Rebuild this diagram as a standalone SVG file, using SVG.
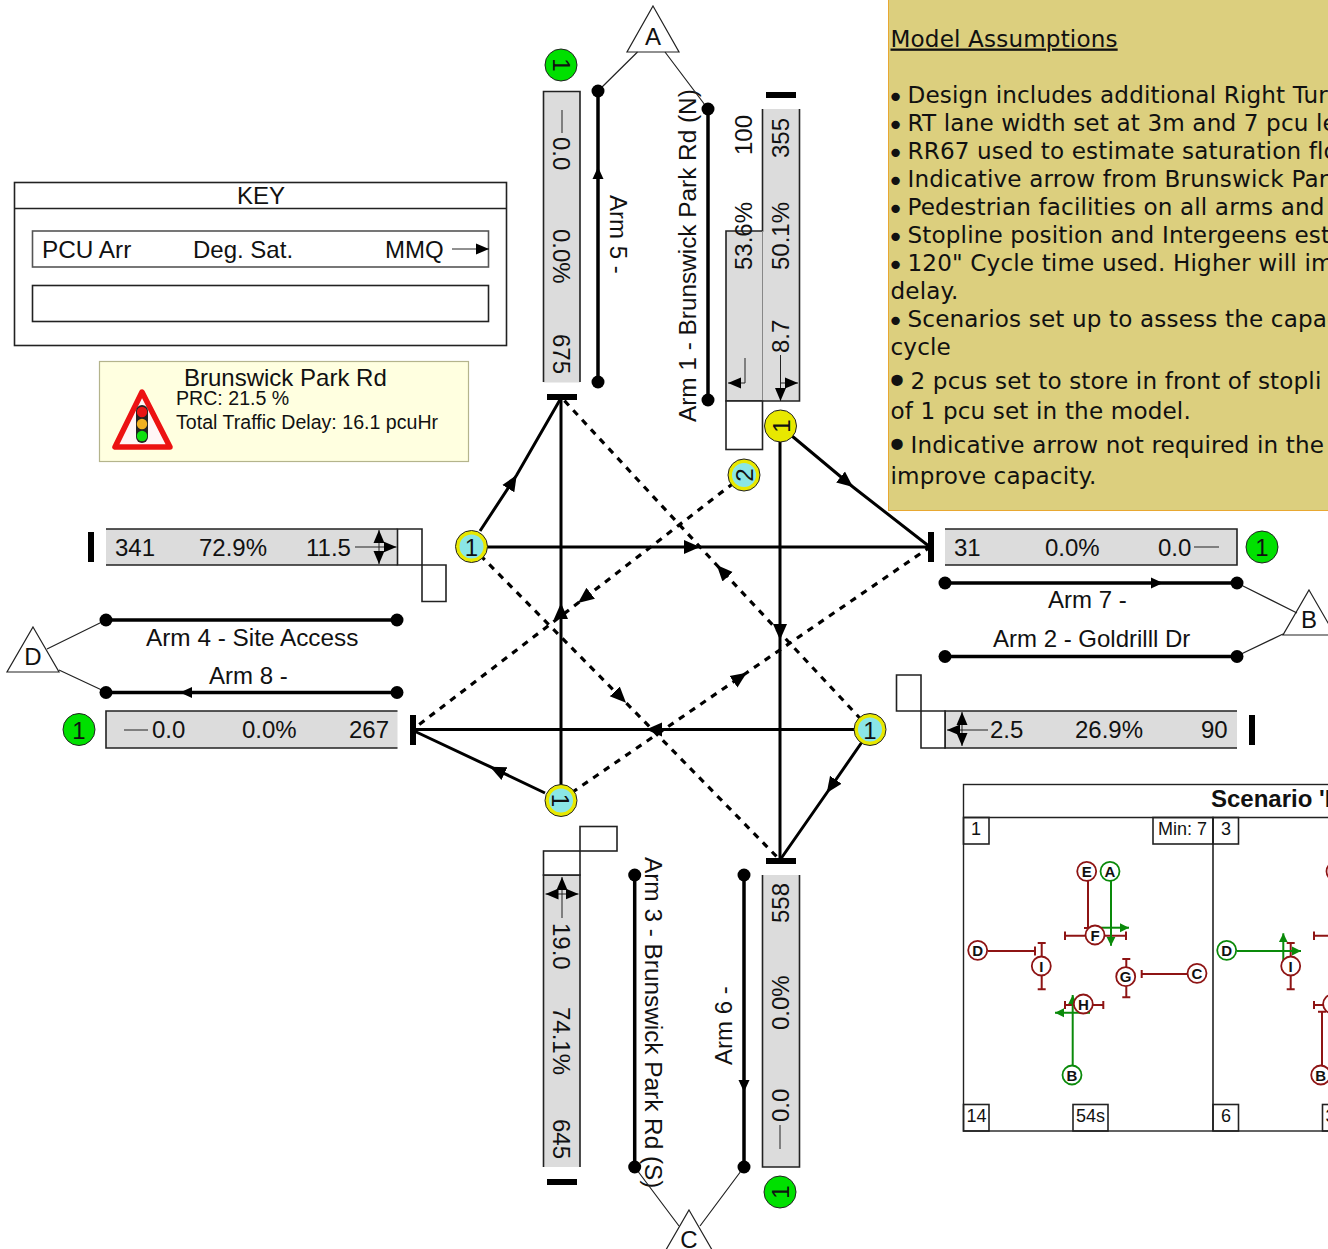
<svg xmlns="http://www.w3.org/2000/svg" width="1328" height="1249" viewBox="0 0 1328 1249">
<style>
text{font-family:"Liberation Sans",Arial,sans-serif;font-size:24px;fill:#111}
.l{font-size:24.35px}
.s{font-size:19.6px}.p{font-size:18px}
.m{font-family:"DejaVu Sans",Verdana,sans-serif;font-size:23.1px;letter-spacing:.15px}
.bu{font-size:29px}.bb{font-size:39px}
.b{font-family:"Liberation Sans",Arial,sans-serif;font-weight:bold;font-size:15px;text-anchor:middle}
.c{text-anchor:middle}
.bar{fill:#dcdcdc;stroke:none}
.o{fill:none;stroke:#222;stroke-width:1.6}
.w{fill:#fff;stroke:#222;stroke-width:1.6}
.thin{fill:none;stroke:#222;stroke-width:1}
.road{fill:none;stroke:#000;stroke-width:3.5}
.dot{fill:#000}
.stop{fill:#000}
.tri{fill:#fff;stroke:#222;stroke-width:1.2}
.lk{fill:none;stroke:#000;stroke-width:3;marker-mid:url(#ah)}
.dl{fill:none;stroke:#000;stroke-width:3.2;stroke-dasharray:6.5 6.5;marker-mid:url(#ah)}
.dr{fill:none;stroke:#222;stroke-width:1.2}
.ga{fill:#00e000;stroke:#222;stroke-width:1}
.ya{fill:#e8e800;stroke:#222;stroke-width:1}
.cy{fill:#8ae6e6}
.red{fill:none;stroke:#8e1414;stroke-width:2}
.grn{fill:none;stroke:#0a8a0a;stroke-width:2}
.cr{fill:#fff;stroke:#8e1414;stroke-width:1.8}
.cg{fill:#fff;stroke:#0a8a0a;stroke-width:1.8}
</style>
<defs>
<marker id="ah" markerUnits="userSpaceOnUse" markerWidth="18" markerHeight="16" refX="16" refY="8" orient="auto"><path d="M0 1L16 8L0 15Z" fill="#000"/></marker>
<marker id="sa" markerUnits="userSpaceOnUse" markerWidth="14" markerHeight="12" refX="13" refY="6" orient="auto-start-reverse"><path d="M0 .5L13 6L0 11.5Z" fill="#000"/></marker>
<marker id="ga" markerUnits="userSpaceOnUse" markerWidth="10" markerHeight="10" refX="9" refY="5" orient="auto"><path d="M0 .5L9 5L0 9.5Z" fill="#0a8a0a"/></marker>
<marker id="rm" markerUnits="userSpaceOnUse" markerWidth="14" markerHeight="12" refX="12" refY="6" orient="auto"><path d="M0 .5L12 6L0 11.5Z" fill="#000"/></marker>
</defs>

<g id="model-assumptions">
<rect x="888.5" y="-2" width="445" height="512.5" fill="#dccf7e" stroke="#e8a832" stroke-width="1"/>
<text class="m" x="890.5" y="46.5" text-decoration="underline">Model Assumptions</text>
<text class="m" y="103"><tspan class="bu" x="887" dy="4">•</tspan><tspan x="907.5" dy="-4">Design includes additional Right Tur</tspan></text>
<text class="m" y="131"><tspan class="bu" x="887" dy="4">•</tspan><tspan x="907.5" dy="-4">RT lane width set at 3m and 7 pcu le</tspan></text>
<text class="m" y="159"><tspan class="bu" x="887" dy="4">•</tspan><tspan x="907.5" dy="-4">RR67 used to estimate saturation flo</tspan></text>
<text class="m" y="187"><tspan class="bu" x="887" dy="4">•</tspan><tspan x="907.5" dy="-4">Indicative arrow from Brunswick Par</tspan></text>
<text class="m" y="215"><tspan class="bu" x="887" dy="4">•</tspan><tspan x="907.5" dy="-4">Pedestrian facilities on all arms and</tspan></text>
<text class="m" y="243"><tspan class="bu" x="887" dy="4">•</tspan><tspan x="907.5" dy="-4">Stopline position and Intergeens est</tspan></text>
<text class="m" y="271"><tspan class="bu" x="887" dy="4">•</tspan><tspan x="907.5" dy="-4">120" Cycle time used. Higher will im</tspan></text>
<text class="m" x="890.5" y="299">delay.</text>
<text class="m" y="327"><tspan class="bu" x="887" dy="4">•</tspan><tspan x="907.5" dy="-4">Scenarios set up to assess the capac</tspan></text>
<text class="m" x="890.5" y="355">cycle</text>
<text class="m" y="389"><tspan class="bb" x="885.5" dy="6">•</tspan><tspan x="910.5" dy="-6">2 pcus set to store in front of stopli</tspan></text>
<text class="m" x="890.5" y="419">of 1 pcu set in the model.</text>
<text class="m" y="453"><tspan class="bb" x="885.5" dy="6">•</tspan><tspan x="910.5" dy="-6">Indicative arrow not required in the</tspan></text>
<text class="m" x="890.5" y="484">improve capacity.</text>
</g>

<g id="key">
<rect class="o" x="14.5" y="182.5" width="492" height="163" stroke-width="1.2"/>
<path class="o" d="M14.5 208.5H507"/>
<text class="c" x="261" y="204">KEY</text>
<rect class="o" x="32.5" y="231" width="456" height="36" style="stroke:#555"/>
<rect class="o" x="32.5" y="285.5" width="456" height="36"/>
<text class="l" x="42" y="258">PCU Arr</text>
<text x="193" y="258">Deg. Sat.</text>
<text x="385" y="258">MMQ</text>
<path class="thin" d="M452 249H489" marker-end="url(#sa)"/>
</g>

<g id="summary">
<rect x="99.5" y="361.5" width="369" height="100" fill="#ffffe0" stroke="#b4b48c" stroke-width="1.2"/>
<path d="M142 392L115 447H170Z" fill="#fff6f6" stroke="#ec1212" stroke-width="5.5" stroke-linejoin="round"/>
<rect x="136" y="405" width="12" height="38" rx="6" fill="#222"/>
<circle cx="142" cy="412" r="5.2" fill="#e81414"/>
<circle cx="142" cy="424" r="5.2" fill="#f0b020"/>
<circle cx="142" cy="436" r="5.2" fill="#10e010"/>
<text x="184" y="386">Brunswick Park Rd</text>
<text class="s" x="176" y="405">PRC: 21.5 %</text>
<text class="s" x="176" y="429">Total Traffic Delay: 16.1 pcuHr</text>
</g>

<g id="arm5-top">
<rect class="bar" x="543.5" y="91.5" width="36.5" height="291"/>
<path class="o" d="M543.5 382V91.5H580V382"/>
<path class="thin" d="M562 110V133"/>
<g transform="translate(553 0) rotate(90)"><text x="137">0.0</text><text x="229">0.0%</text><text x="334">675</text></g>
<rect class="stop" x="547" y="394" width="30" height="6"/>
<circle class="ga" cx="561" cy="65" r="16"/>
<text class="c" transform="translate(552.5 65) rotate(90)">1</text>
</g>

<g id="arm1-top">
<path class="bar" d="M762.5 109H799.5V401H726V231H762.5Z"/>
<path class="o" d="M762.5 109V231H726V401H799.5V109"/>
<path class="thin" d="M762.5 231V401" style="stroke:#888"/>
<rect class="w" x="726" y="401" width="36.5" height="48.5"/>
<g transform="translate(752 0) rotate(-90)"><text x="-155">100</text><text x="-270">53.6%</text></g>
<g transform="translate(789 0) rotate(-90)"><text x="-158">355</text><text x="-270">50.1%</text><text x="-353">8.7</text></g>
<path class="thin" d="M745 358V383H728" marker-end="url(#sa)"/>
<path class="thin" d="M780.5 355V401" marker-end="url(#sa)"/>
<path class="thin" d="M780.5 383H798" marker-end="url(#sa)"/>
<rect class="stop" x="766" y="92" width="30" height="6"/>
</g>

<g id="arm7-right">
<rect class="bar" x="945" y="529" width="292" height="36"/>
<path class="o" d="M945 529H1237V565H945"/>
<text x="954" y="556">31</text><text x="1045" y="556">0.0%</text><text x="1158" y="556">0.0</text>
<path class="thin" d="M1194 547H1219"/>
<rect class="stop" x="928" y="532" width="6" height="30"/>
<circle class="ga" cx="1262" cy="547" r="16"/>
<text class="c" x="1262" y="556">1</text>
</g>

<g id="arm2-right">
<rect class="bar" x="945" y="711" width="292" height="37"/>
<path class="o" d="M1237 711H945V748H1237"/>
<path class="w" d="M921 711H945V748H921Z"/>
<path class="w" d="M896.5 675H921V711H896.5Z"/>
<text x="990" y="738">2.5</text><text x="1075" y="738">26.9%</text><text x="1201" y="738">90</text>
<path class="thin" d="M988 730H947" marker-end="url(#sa)"/>
<path class="thin" d="M962 712V746" marker-start="url(#sa)" marker-end="url(#sa)"/>
<rect class="stop" x="1249" y="715" width="6" height="30"/>
</g>

<g id="arm4-left">
<rect class="bar" x="106" y="529" width="291.5" height="36"/>
<path class="o" d="M106 529H397.5M106 565H397.5"/>
<path class="w" d="M397.5 529H422V565H397.5Z"/>
<path class="w" d="M422 565H446V601.5H422Z"/>
<text x="115" y="556">341</text><text x="199" y="556">72.9%</text><text x="306" y="556">11.5</text>
<path class="thin" d="M355 547H396.5" marker-end="url(#sa)"/>
<path class="thin" d="M379 530V564" marker-start="url(#sa)" marker-end="url(#sa)"/>
<rect class="stop" x="88" y="532" width="6" height="30"/>
</g>

<g id="arm8-left">
<rect class="bar" x="106" y="711" width="291.5" height="37"/>
<path class="o" d="M397.5 711H106V748H397.5"/>
<text x="152" y="738">0.0</text><text x="242" y="738">0.0%</text><text x="349" y="738">267</text>
<path class="thin" d="M124 730H148"/>
<rect class="stop" x="410" y="715" width="6" height="30"/>
<circle class="ga" cx="79" cy="729.5" r="16"/>
<text class="c" x="79" y="738.5">1</text>
</g>

<g id="arm3-bottom">
<rect class="bar" x="543.5" y="875" width="36.5" height="292"/>
<path class="o" d="M543.5 1167V875H580V1167"/>
<rect class="w" x="543.5" y="851" width="36.5" height="24"/>
<rect class="w" x="580" y="826.5" width="37" height="24.5"/>
<g transform="translate(553 0) rotate(90)"><text x="923">19.0</text><text x="1007">74.1%</text><text x="1119">645</text></g>
<path class="thin" d="M562 918V877" marker-end="url(#sa)"/>
<path class="thin" d="M545.5 894H578.5" marker-start="url(#sa)" marker-end="url(#sa)"/>
<rect class="stop" x="547" y="1179" width="30" height="6"/>
</g>

<g id="arm6-bottom">
<rect class="bar" x="762.5" y="875" width="37" height="292"/>
<path class="o" d="M762.5 875V1167H799.5V875"/>
<g transform="translate(789 0) rotate(-90)"><text x="-923">558</text><text x="-1030">0.0%</text><text x="-1122">0.0</text></g>
<path class="thin" d="M780 1125V1149"/>
<rect class="stop" x="766" y="858" width="30" height="6"/>
<circle class="ga" cx="780" cy="1192" r="16"/>
<text class="c" transform="translate(789 1192) rotate(-90)">1</text>
</g>

<g id="arm-labels">
<text transform="translate(610 195) rotate(90)">Arm 5 -</text>
<text class="l" transform="translate(696 422) rotate(-90)">Arm 1 - Brunswick Park Rd (N)</text>
<text x="1048" y="608">Arm 7 -</text>
<text x="993" y="647">Arm 2 - Goldrilll Dr</text>
<text class="l" x="146" y="646">Arm 4 - Site Access</text>
<text x="209" y="684">Arm 8 -</text>
<text class="l" transform="translate(645 857) rotate(90)">Arm 3 - Brunswick Park Rd (S)</text>
<text transform="translate(732 1065) rotate(-90)">Arm 6 -</text>
</g>

<g id="node-a">
<path class="tri" d="M653 6L679 52H627Z"/>
<text class="c" x="653" y="45">A</text>
</g>
<g id="node-b">
<path class="tri" d="M1309 590L1335 635H1283Z"/>
<text class="c" x="1309" y="628">B</text>
</g>
<g id="node-c">
<path class="tri" d="M689 1210L715 1255H663Z"/>
<text class="c" x="689" y="1248">C</text>
</g>
<g id="node-d">
<path class="tri" d="M33 627L59 672H7Z"/>
<text class="c" x="33" y="665">D</text>
</g>

<g id="connectors">
<path class="dr" d="M637.5 52L598 91M665 52L708 109M1237 583L1297 613M1237 656L1283 634M47 649L106 620M59 670L106 692M634.7 1167L679 1226M744 1167L700 1226"/>
<path class="road" d="M598 382V167V91" marker-mid="url(#rm)"/>
<path class="road" d="M708 109V400"/>
<path class="road" d="M945 583H1163H1237" marker-mid="url(#rm)"/>
<path class="road" d="M945 656.5H1237"/>
<path class="road" d="M106 620H397"/>
<path class="road" d="M397 692.5H180H106" marker-mid="url(#rm)"/>
<path class="road" d="M634.7 875V1167"/>
<path class="road" d="M744 875V1092V1167" marker-mid="url(#rm)"/>
<g class="dot">
<circle cx="598" cy="91" r="6.5"/><circle cx="598" cy="382" r="6.5"/>
<circle cx="708" cy="109" r="6.5"/><circle cx="708" cy="400" r="6.5"/>
<circle cx="945" cy="583" r="6.5"/><circle cx="1237" cy="583" r="6.5"/>
<circle cx="945" cy="656.5" r="6.5"/><circle cx="1237" cy="656.5" r="6.5"/>
<circle cx="106" cy="620" r="6.5"/><circle cx="397" cy="620" r="6.5"/>
<circle cx="106" cy="692.5" r="6.5"/><circle cx="397" cy="692.5" r="6.5"/>
<circle cx="634.7" cy="875" r="6.5"/><circle cx="634.7" cy="1167" r="6.5"/>
<circle cx="744" cy="875" r="6.5"/><circle cx="744" cy="1167" r="6.5"/>
</g>
<path class="lk" d="M471 547L700 547L930 547"/>
<path class="lk" d="M480 531L516.7 475L561 398"/>
<path class="lk" d="M561 800L561 603L561 398"/>
<path class="lk" d="M780 426L780 640L780 860"/>
<path class="lk" d="M792 436L853 487L930 547"/>
<path class="lk" d="M870 729.5L646 729.5L412 729.5"/>
<path class="lk" d="M862 742L826.7 793L780 860"/>
<path class="lk" d="M545 793L490 766.7L412 730"/>
<path class="dl" d="M870 729L716.7 565L561 397"/>
<path class="dl" d="M471 546L626 702.7L780 860"/>
<path class="dl" d="M744 475L578 603L412 730"/>
<path class="dl" d="M561 800L746.7 672.7L930 547"/>
</g>

<g id="signal-1-tl"><circle class="ya" cx="471.5" cy="546.5" r="16"/><circle class="cy" cx="471.5" cy="546.5" r="12"/><text class="c" x="471.5" y="555.5">1</text></g>
<g id="signal-1-r"><circle class="ya" cx="870" cy="729.5" r="16"/><circle class="cy" cx="870" cy="729.5" r="12"/><text class="c" x="870" y="738.5">1</text></g>
<g id="signal-1-b"><circle class="ya" cx="561" cy="800.5" r="16"/><circle class="cy" cx="561" cy="800.5" r="12"/><text class="c" transform="translate(552 800.5) rotate(90)">1</text></g>
<g id="signal-2"><circle class="ya" cx="744" cy="475" r="16"/><circle class="cy" cx="744" cy="475" r="12"/><text class="c" transform="translate(753 475) rotate(-90)">2</text></g>
<g id="signal-1-t"><circle class="ya" cx="780.5" cy="426" r="16"/><text class="c" transform="translate(789.5 426) rotate(-90)">1</text></g>

<g id="scenario">
<rect x="963.5" y="784.5" width="380" height="346.5" fill="none" stroke="#222" stroke-width="1.4"/>
<path class="o" d="M963.5 817.5H1340M1213 817.5V1131"/>
<text x="1211" y="807" font-weight="bold">Scenario 'I</text>
<rect class="o" x="963.5" y="817.5" width="25.5" height="26.5"/><text class="p" x="971" y="835">1</text>
<rect class="o" x="1153" y="817.5" width="60" height="26.5"/><text class="p" x="1158" y="835">Min: 7</text>
<rect class="o" x="1213" y="817.5" width="25.5" height="26.5"/><text class="p" x="1221" y="835">3</text>
<rect class="o" x="963.5" y="1104.5" width="25.5" height="26.5"/><text class="p" x="966.5" y="1122">14</text>
<rect class="o" x="1073" y="1104.5" width="35" height="26.5"/><text class="p" x="1076" y="1122">54s</text>
<rect class="o" x="1213" y="1104.5" width="25.5" height="26.5"/><text class="p" x="1221" y="1122">6</text>
<rect class="o" x="1322.5" y="1104.5" width="35" height="26.5"/><text class="p" x="1325.5" y="1122">3</text>

<path class="red" d="M1088 881V928M1084 928H1092M1065 935.7H1126M1065 931.5V940M1126 931.5V940M988 951H1035M1035 946.5V955.5M1041.7 943V989.3M1037.7 943H1045.7M1037.7 989.3H1045.7M1126.3 959V997.3M1122.3 959H1130.3M1122.3 997.3H1130.3M1187 974H1141.7M1141.7 970V978M1065 1005H1103.3M1065 1001V1009M1103.3 1001V1009"/>
<path class="grn" d="M1111 881V945.7" marker-end="url(#ga)"/>
<path class="grn" d="M1097 927.7H1129" marker-end="url(#ga)"/>
<path class="grn" d="M1072.7 1066V995" marker-end="url(#ga)"/>
<path class="grn" d="M1090 1012.7H1055" marker-end="url(#ga)"/>
<g id="p1-E"><circle class="cr" cx="1086.7" cy="871.3" r="9.5"/><text class="b" x="1086.7" y="876.5">E</text></g>
<g id="p1-A"><circle class="cg" cx="1110" cy="871.3" r="9.5"/><text class="b" x="1110" y="876.5">A</text></g>
<g id="p1-F"><circle class="cr" cx="1095" cy="935" r="9.5"/><text class="b" x="1095" y="940.5">F</text></g>
<g id="p1-D"><circle class="cr" cx="977.7" cy="950.3" r="9.5"/><text class="b" x="977.7" y="955.5">D</text></g>
<g id="p1-I"><circle class="cr" cx="1041.3" cy="966" r="9.5"/><text class="b" x="1041.3" y="971.5">I</text></g>
<g id="p1-G"><circle class="cr" cx="1125.7" cy="976.7" r="9.5"/><text class="b" x="1125.7" y="982">G</text></g>
<g id="p1-C"><circle class="cr" cx="1197" cy="973.3" r="9.5"/><text class="b" x="1197" y="978.5">C</text></g>
<g id="p1-H"><circle class="cr" cx="1083.3" cy="1004" r="9.5"/><text class="b" x="1083.3" y="1009.5">H</text></g>
<g id="p1-B"><circle class="cg" cx="1072" cy="1075" r="9.5"/><text class="b" x="1072" y="1080.5">B</text></g>

<path class="red" d="M1290.7 943V989.3M1286.7 943H1294.7M1286.7 989.3H1294.7M1314 935.7H1330M1314 931.5V940M1314 1005H1330M1314 1001V1009M1322 1011.7V1065M1318 1011.7H1326"/>
<path class="grn" d="M1237 951H1301" marker-end="url(#ga)"/>
<path class="grn" d="M1283.3 962V933.3" marker-end="url(#ga)"/>
<g id="p2-E"><circle class="cr" cx="1336" cy="871.3" r="9.5"/></g>
<g id="p2-H"><circle class="cr" cx="1332.6" cy="1004" r="9.5"/></g>
<g id="p2-D"><circle class="cg" cx="1226.7" cy="950.3" r="9.5"/><text class="b" x="1226.7" y="955.5">D</text></g>
<g id="p2-I"><circle class="cr" cx="1290.7" cy="966" r="9.5"/><text class="b" x="1290.7" y="971.5">I</text></g>
<g id="p2-B"><circle class="cr" cx="1320.7" cy="1075" r="9.5"/><text class="b" x="1320.7" y="1080.5">B</text></g>
</g>
</svg>
